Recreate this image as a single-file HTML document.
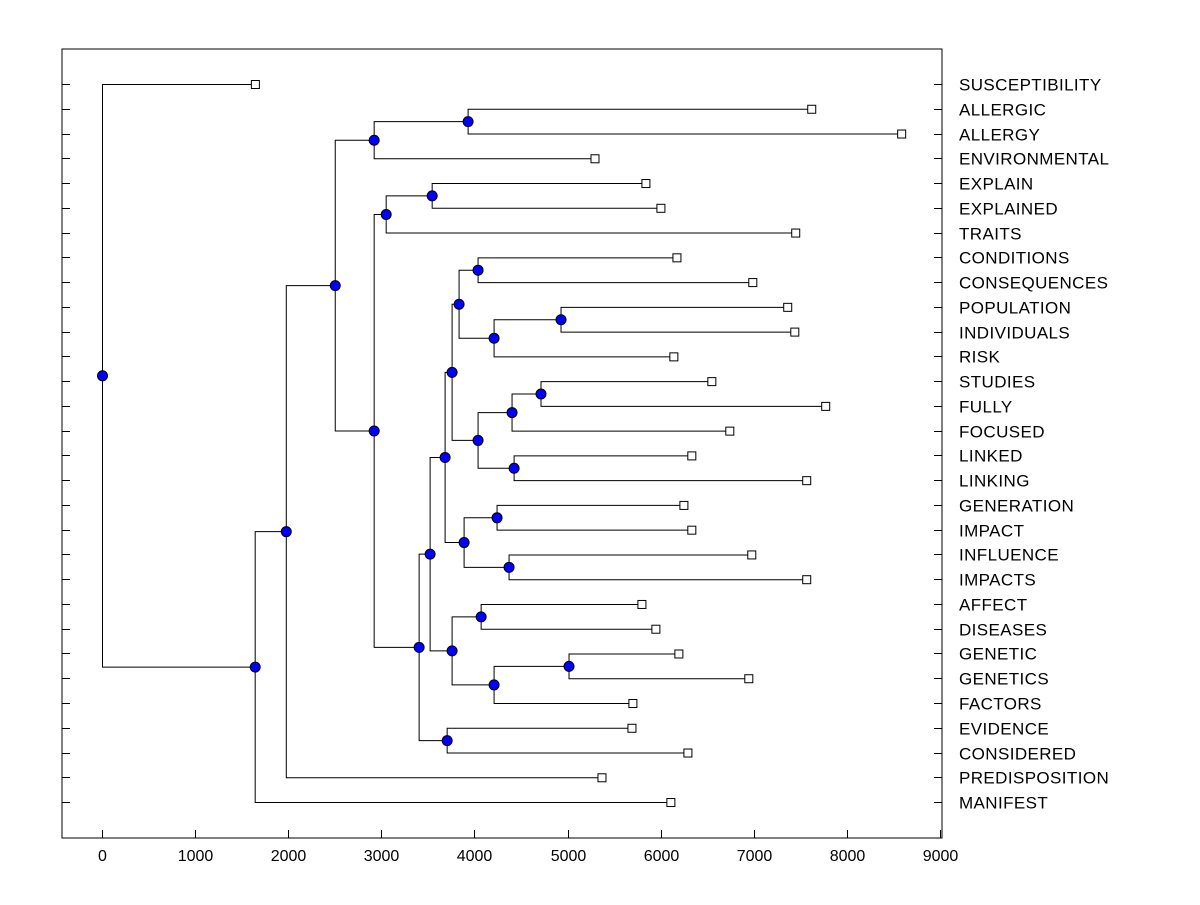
<!DOCTYPE html>
<html><head><meta charset="utf-8"><style>
body{margin:0;background:#fff;}
svg text{font-family:"Liberation Sans",Arial,sans-serif;font-size:16px;fill:#000;}
svg text.leaf{font-size:17px;letter-spacing:0.4px;}
</style></head><body>
<svg id="c" width="1200" height="900" xmlns="http://www.w3.org/2000/svg"></svg>
<script>
const leafNames=["SUSCEPTIBILITY","ALLERGIC","ALLERGY","ENVIRONMENTAL","EXPLAIN","EXPLAINED","TRAITS","CONDITIONS","CONSEQUENCES","POPULATION","INDIVIDUALS","RISK","STUDIES","FULLY","FOCUSED","LINKED","LINKING","GENERATION","IMPACT","INFLUENCE","IMPACTS","AFFECT","DISEASES","GENETIC","GENETICS","FACTORS","EVIDENCE","CONSIDERED","PREDISPOSITION","MANIFEST"];
const leafValues=[1642,7618,8584,5290,5837,5998,7446,6170,6985,7360,7436,6137,6545,7768,6738,6330,7564,6245,6330,6974,7564,5794,5944,6191,6942,5697,5687,6288,5365,6105];
const nodeHeights=[0,1640,1974,2500,2918,2918,3927,3047,3401,3541,3519,3702,3680,3755,4067,4206,5011,3755,3884,4238,4367,3830,4034,4034,4206,4925,4399,4421,4710];
const nodeChildren=[["L0","N1"],["N2","L29"],["N3","L28"],["N4","N5"],["N6","L3"],["N7","N8"],["L1","L2"],["N9","L6"],["N10","N11"],["L4","L5"],["N12","N13"],["L26","L27"],["N17","N18"],["N14","N15"],["L21","L22"],["N16","L25"],["L23","L24"],["N21","N22"],["N19","N20"],["L17","L18"],["L19","L20"],["N23","N24"],["N26","N27"],["L7","L8"],["N25","L11"],["L9","L10"],["N28","L14"],["L15","L16"],["L12","L13"]];
const xTicks=[0,1000,2000,3000,4000,5000,6000,7000,8000,9000];

const svg=document.getElementById('c');const NS="http://www.w3.org/2000/svg";
const L=62,R=942,T=49,B=838;
const xs=v=>102+v*0.0931;
const ys=i=>84+i*24.76;
function mk(tag,attrs,name,parent){const e=document.createElementNS(NS,tag);for(const k in attrs)e.setAttribute(k,attrs[k]);


(parent||svg).appendChild(e);return e;}
mk('rect',{x:L,y:T,width:R-L,height:B-T,fill:'none',stroke:'#000','stroke-width':1},'plot-frame');
xTicks.forEach(t=>{const x=Math.round(xs(t))+0.5;
mk('line',{x1:x,x2:x,y1:B,y2:B-8,stroke:'#000'},'x-tick');
const tx=mk('text',{x:x,y:861,'text-anchor':'middle'},'x-tick-label');tx.textContent=t;});
leafNames.forEach((n,i)=>{const y=Math.round(ys(i))+0.5;
mk('line',{x1:L,x2:L+8,y1:y,y2:y,stroke:'#000'},'y-tick-left');
mk('line',{x1:R-8,x2:R,y1:y,y2:y,stroke:'#000'},'y-tick-right');
const tx=mk('text',{x:959,y:y+6,'class':'leaf'},'leaf-label');tx.textContent=n;});
function pos(id){const k=+id.slice(1);if(id[0]=='L')return {x:xs(leafValues[k]),y:ys(k)};
const a=pos(nodeChildren[k][0]),b=pos(nodeChildren[k][1]);return {x:xs(nodeHeights[k]),y:(a.y+b.y)/2};}
const gL=mk('g',{},'branches'),gM=mk('g',{},'markers');
nodeChildren.forEach((ch,k)=>{const p=pos('N'+k);
ch.forEach(c=>{const q=pos(c);
mk('polyline',{points:`${p.x+.5},${p.y+.5} ${p.x+.5},${q.y+.5} ${q.x},${q.y+.5}`,fill:'none',stroke:'#000','stroke-width':1},'branch',gL);});
mk('circle',{cx:p.x+.5,cy:p.y+.5,r:5,fill:'#0000ff',stroke:'#000','stroke-width':1},'merge-node',gM);});
leafNames.forEach((n,i)=>{const q=pos('L'+i);
mk('rect',{x:q.x-3.5,y:q.y-3.5,width:8,height:8,fill:'#fff',stroke:'#000'},'leaf-marker',gM);});
</script>
</body></html>
